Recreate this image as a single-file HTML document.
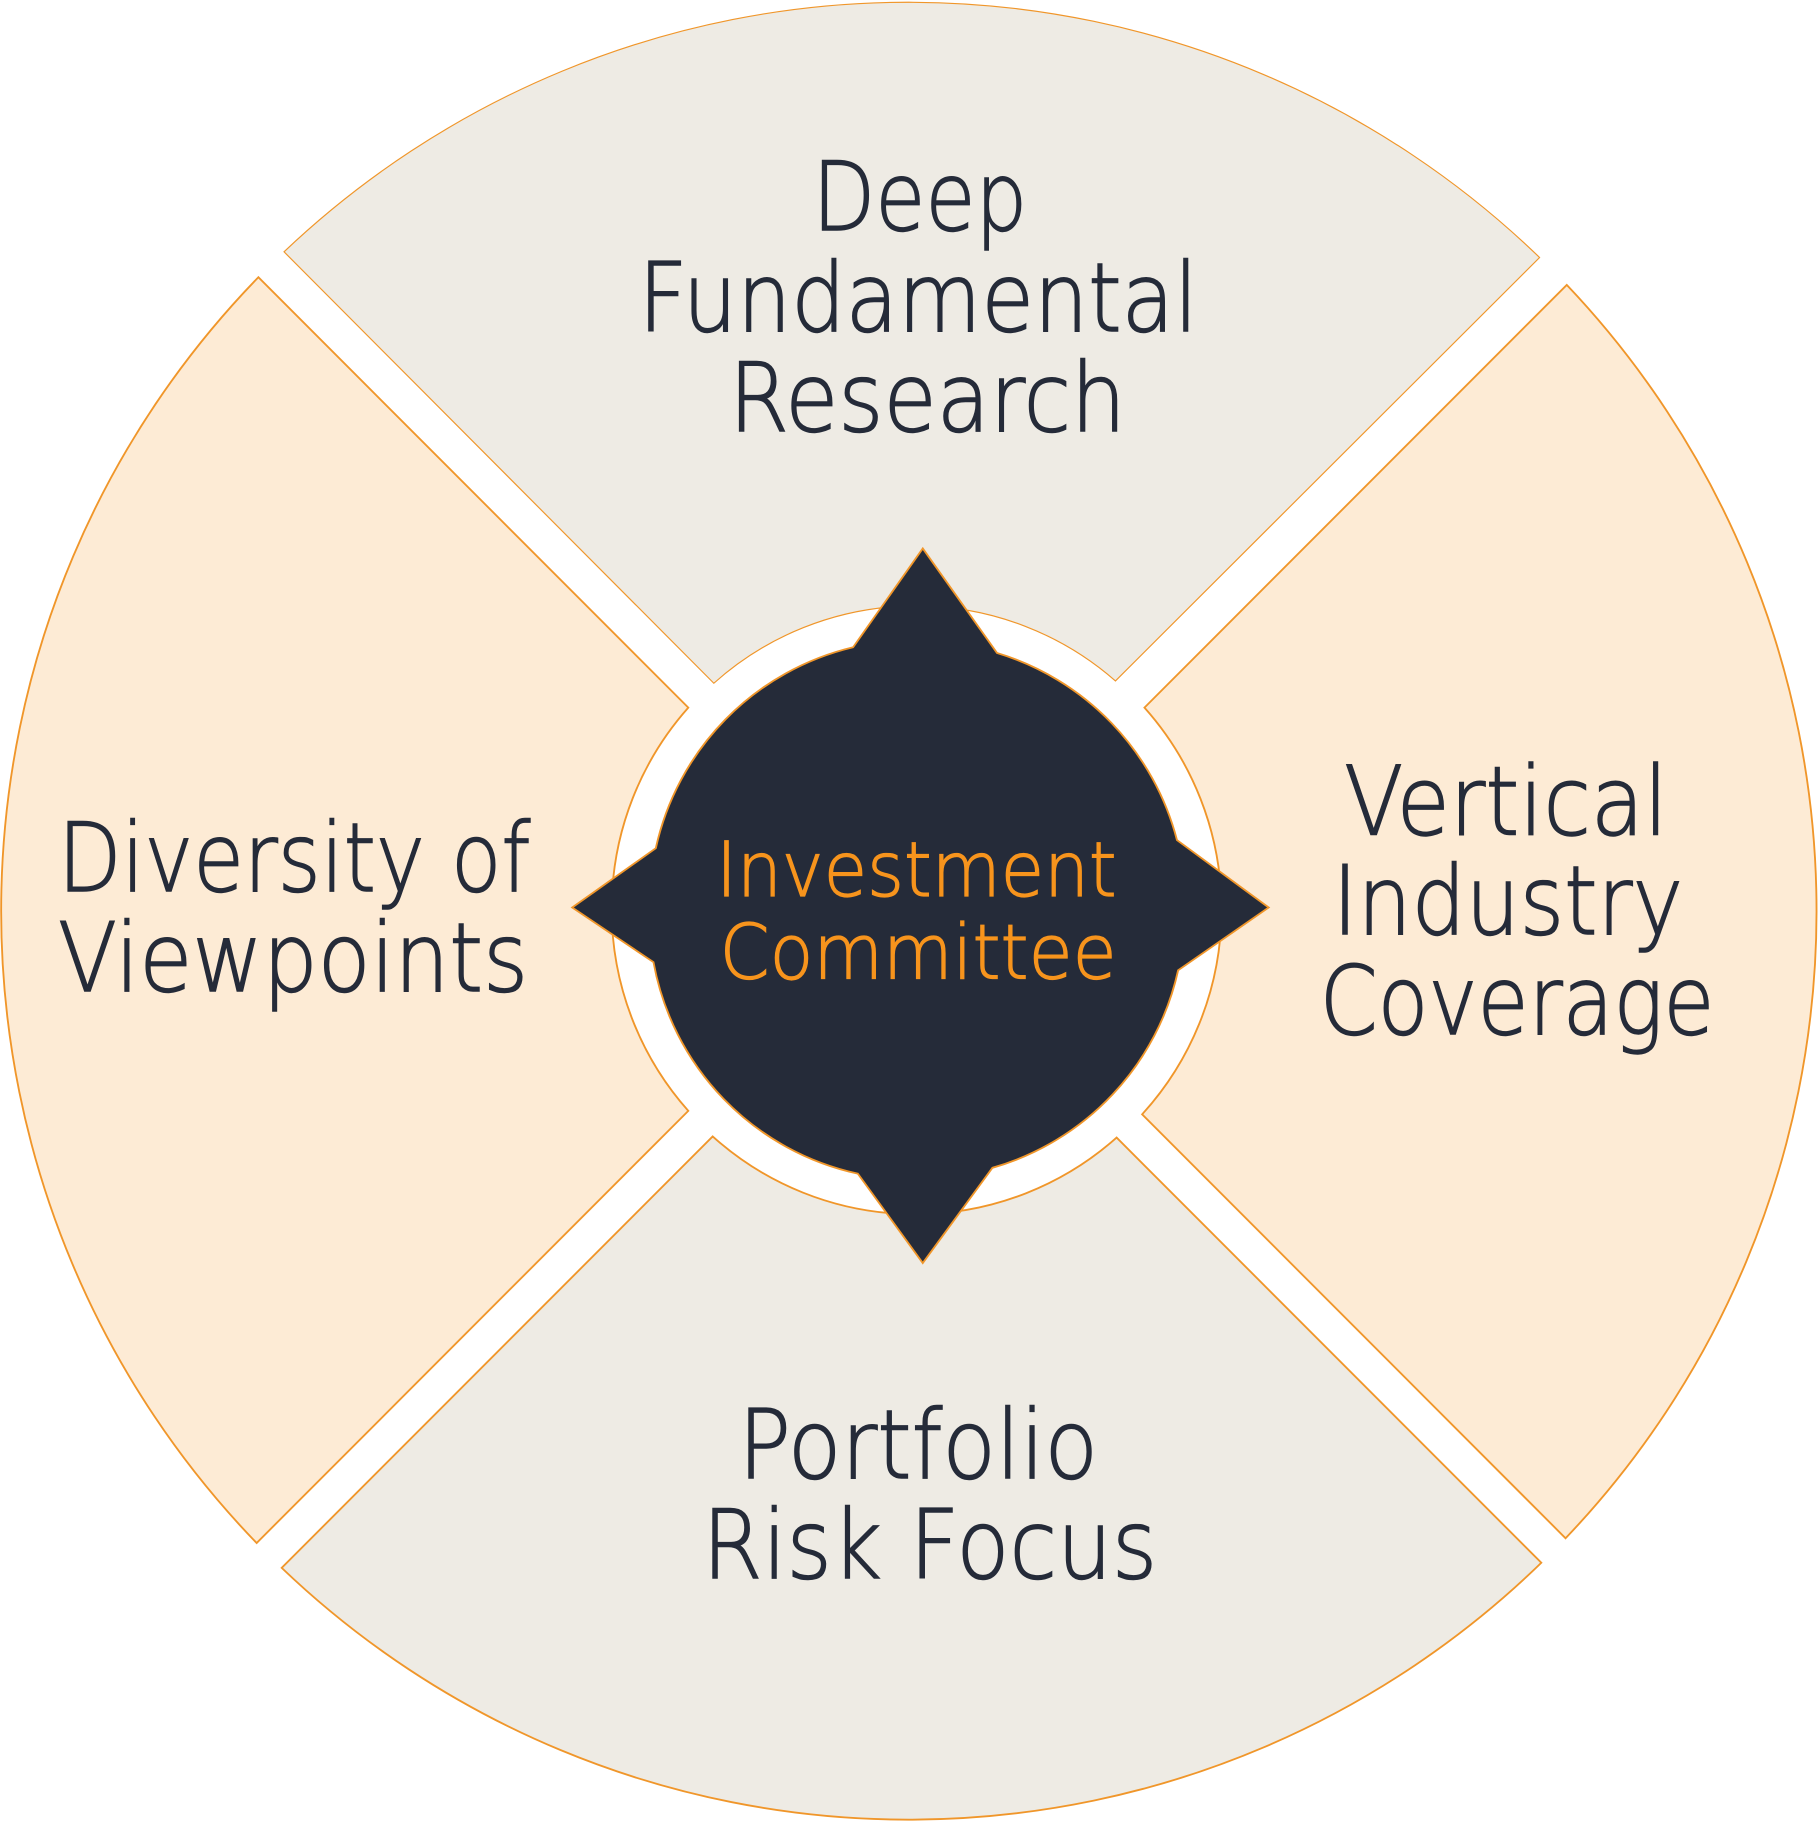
<!DOCTYPE html>
<html><head><meta charset="utf-8"><style>
html,body{margin:0;padding:0;background:#fff;}
svg{display:block;}
text{font-family:"DejaVu Sans","Liberation Sans",sans-serif;font-weight:200;}
</style></head><body>
<svg width="1820" height="1822" viewBox="0 0 1568 1568" preserveAspectRatio="none" xmlns="http://www.w3.org/2000/svg">
<rect width="1568" height="1568" fill="#fff"/>
<g stroke="#F0962A" stroke-width="1.6" stroke-linejoin="miter">
<path d="M244.7,216.7 A782,782 0 0 1 1326.4,221.6 L961,586 A261,261 0 0 0 615,588 Z" fill="#EEEBE4" stroke-width="1"/>
<path d="M1349.8,245.2 A782,782 0 0 1 1348.8,1323.8 L984,959 A261,261 0 0 0 986,609 Z" fill="#FDEBD5"/>
<path d="M1327.9,1344.9 A782,782 0 0 1 242.7,1349.3 L614,978 A261,261 0 0 0 962,979 Z" fill="#EEEBE4"/>
<path d="M221.1,1327.9 A782,782 0 0 1 222.6,238.6 L593,609 A261,261 0 0 0 593,956 Z" fill="#FDEBD5"/>
<path d="M795,472 L859,562 A228,228 0 0 1 1014,723 L1093,781 L1015,835 A228,228 0 0 1 855,1005 L795,1087 L739,1010 A228,228 0 0 1 563,828 L493,781 L565,730 A228,228 0 0 1 735,557 Z" fill="#252B39"/>
</g>
<g fill="#252B39" stroke="#252B39" stroke-width="1.2" font-size="82">
<text x="700" y="198" textLength="185" lengthAdjust="spacingAndGlyphs">Deep</text>
<text x="550" y="285" textLength="482" lengthAdjust="spacingAndGlyphs">Fundamental</text>
<text x="628" y="371" textLength="342" lengthAdjust="spacingAndGlyphs">Research</text>
<text x="50" y="767" textLength="407" lengthAdjust="spacingAndGlyphs">Diversity of</text>
<text x="50" y="853" textLength="405" lengthAdjust="spacingAndGlyphs">Viewpoints</text>
<text x="1158" y="718" textLength="279" lengthAdjust="spacingAndGlyphs">Vertical</text>
<text x="1148" y="804" textLength="302" lengthAdjust="spacingAndGlyphs">Industry</text>
<text x="1137" y="890" textLength="340" lengthAdjust="spacingAndGlyphs">Coverage</text>
<text x="636" y="1272" textLength="310" lengthAdjust="spacingAndGlyphs">Portfolio</text>
<text x="605" y="1358" textLength="392" lengthAdjust="spacingAndGlyphs">Risk Focus</text>
</g>
<g fill="#F7941D" stroke="#F7941D" stroke-width="1" font-size="65">
<text x="617" y="771" textLength="345" lengthAdjust="spacingAndGlyphs">Investment</text>
<text x="620" y="842" textLength="342" lengthAdjust="spacingAndGlyphs">Committee</text>
</g>
</svg>
</body></html>
